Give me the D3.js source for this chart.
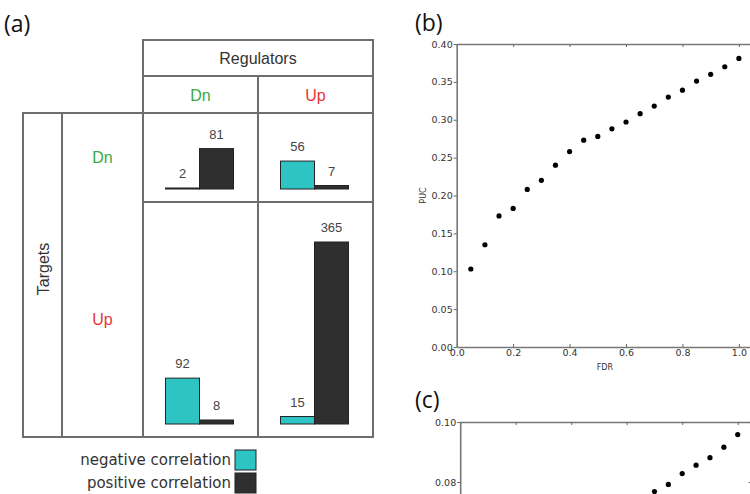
<!DOCTYPE html>
<html>
<head>
<meta charset="utf-8">
<script src="https://cdn.jsdelivr.net/npm/d3@7"></script>
<style>
  body { margin: 0; background: #fff; }
  svg { display: block; }
</style>
</head>
<body>
<svg id="svg" width="750" height="494"></svg>
<script>
// (a) counts, [target][regulator]
var regulators = ['Dn', 'Up'];
var targets = ['Dn', 'Up'];
var negCounts = [[2, 56], [92, 15]];
var posCounts = [[81, 7], [8, 365]];
var seriesNames = ['negative correlation', 'positive correlation'];
var seriesColors = ['#2ec4c4', '#2f2f2f'];
var labelColors = {'Dn': '#3aa845', 'Up': '#e8353b'};

// (b) PUC vs FDR
var fdrB = [0.05, 0.10, 0.15, 0.20, 0.25, 0.30, 0.35, 0.40, 0.45, 0.50,
            0.55, 0.60, 0.65, 0.70, 0.75, 0.80, 0.85, 0.90, 0.95, 1.00];
var pucB = [0.103, 0.135, 0.173, 0.183, 0.208, 0.220, 0.240, 0.258, 0.273, 0.278,
            0.288, 0.297, 0.308, 0.318, 0.330, 0.339, 0.351, 0.360, 0.370, 0.381];
var yTicksB = [0, 0.05, 0.10, 0.15, 0.20, 0.25, 0.30, 0.35, 0.40];
var xTicks = [0, 0.2, 0.4, 0.6, 0.8, 1.0];

// (c) visible part
var fdrC = [0.70, 0.75, 0.80, 0.85, 0.90, 0.95, 1.00];
var valC = [0.0768, 0.0792, 0.0828, 0.0856, 0.0881, 0.0916, 0.0958];
var yTicksC = [0, 0.02, 0.04, 0.06, 0.08, 0.10];

var W = 750, H = 494;
var s = d3.select('#svg');

function panelLabel(x, y, t){
    s.append('text')
        .attr('x', x).attr('y', y)
        .attr('font-family', 'Open Sans, sans-serif')
        .attr('font-size', 23)
        .attr('fill', '#111')
        .text(t);
}

// ---------- panel (a) ----------
function genTable(){
    panelLabel(4, 32, '(a)');
    var L = 23, C1 = 62, C2 = 143, R = 373;
    var T = 40, H2 = 76, R1 = 113, RM = 202, B = 437;
    var g = s.append('g').attr('stroke', '#6e6e6e').attr('stroke-width', 2).attr('fill', 'none');
    g.append('rect').attr('x', C2).attr('y', T).attr('width', R - C2).attr('height', B - T);
    g.append('rect').attr('x', L).attr('y', R1).attr('width', R - L).attr('height', B - R1);
    [[C2, H2, R, H2], [C2, RM, R, RM], [C1, R1, C1, B]].forEach(function(l){
        g.append('line').attr('x1', l[0]).attr('y1', l[1]).attr('x2', l[2]).attr('y2', l[3]);
    });

    var col = d3.scaleBand().domain(regulators).range([C2, R]);
    var rowTop = {'Dn': R1, 'Up': RM}, rowBot = {'Dn': RM, 'Up': B};
    g.append('line').attr('x1', col('Up')).attr('y1', H2).attr('x2', col('Up')).attr('y2', B);

    s.append('text').attr('x', (C2 + R) / 2).attr('y', 64)
        .attr('text-anchor', 'middle').attr('font-family', 'Liberation Sans, Arial')
        .attr('font-size', 16).attr('fill', '#333').text('Regulators');
    regulators.forEach(function(r){
        s.append('text').attr('x', col(r) + col.bandwidth() / 2).attr('y', 101)
            .attr('text-anchor', 'middle').attr('font-family', 'Liberation Sans, Arial')
            .attr('font-size', 16).attr('fill', labelColors[r]).text(r);
    });
    targets.forEach(function(t){
        s.append('text').attr('x', (C1 + C2) / 2).attr('y', (rowTop[t] + rowBot[t]) / 2 + 5)
            .attr('text-anchor', 'middle').attr('font-family', 'Liberation Sans, Arial')
            .attr('font-size', 16).attr('fill', labelColors[t]).text(t);
    });
    s.append('text')
        .attr('transform', 'translate(' + ((L + C1) / 2 + 6) + ',' + ((R1 + B) / 2 - 6) + ') rotate(-90)')
        .attr('text-anchor', 'middle').attr('font-family', 'Liberation Sans, Arial')
        .attr('font-size', 16).attr('fill', '#333').text('Targets');

    var h = d3.scaleLinear().domain([0, 365]).range([0, 182]);
    var inner = d3.scaleBand().domain([0, 1]).range([-35, 33]);
    targets.forEach(function(t, ti){
        regulators.forEach(function(r, ri){
            var cx = col(r) + col.bandwidth() / 2;
            var base = rowBot[t] - 13;
            [negCounts[ti][ri], posCounts[ti][ri]].forEach(function(v, k){
                var x = cx + inner(k);
                s.append('rect')
                    .attr('x', x).attr('y', base - Math.max(h(v), 1))
                    .attr('width', inner.bandwidth()).attr('height', Math.max(h(v), 1))
                    .attr('fill', seriesColors[k])
                    .attr('stroke', '#222').attr('stroke-width', 1);
                s.append('text')
                    .attr('x', x + inner.bandwidth() / 2).attr('y', base - h(v) - 10)
                    .attr('text-anchor', 'middle').attr('font-family', 'Liberation Sans, Arial')
                    .attr('font-size', 13).attr('fill', '#444').text(v);
            });
        });
    });

    seriesNames.forEach(function(n, k){
        var y = 460 + k * 23;
        s.append('text').attr('x', 231).attr('y', y + 5)
            .attr('text-anchor', 'end').attr('font-family', 'DejaVu Sans, sans-serif')
            .attr('font-size', 15).attr('fill', '#333').text(n);
        s.append('rect').attr('x', 235).attr('y', y - 10).attr('width', 21).attr('height', 20)
            .attr('fill', seriesColors[k]).attr('stroke', '#222').attr('stroke-width', 1);
    });
}

// ---------- panels (b), (c) ----------
function genScatter(xs, ys, xDom, xRange, yDom, yRange, yTicks, withXLabels, yLabel, xLabel){
    var x = d3.scaleLinear().domain(xDom).range(xRange);
    var y = d3.scaleLinear().domain(yDom).range(yRange);
    var yShown = yTicks.filter(function(t){ return y(t) < H; });
    var g = s.append('g');
    var styleAxis = function(a){
        a.select('.domain').attr('stroke', '#777').attr('stroke-width', 1.6);
        a.selectAll('.tick line').attr('stroke', '#666');
        a.selectAll('text').attr('font-family', 'DejaVu Sans').attr('font-size', 9.5).attr('fill', '#333');
    };
    if(withXLabels){
        g.append('g').attr('transform', 'translate(0,' + y.range()[0] + ')')
            .call(d3.axisBottom(x).tickValues(xTicks).tickSizeInner(-3).tickSizeOuter(0).tickPadding(2)
                .tickFormat(d3.format('.1f')))
            .call(styleAxis);
    }
    g.append('g').attr('transform', 'translate(0,' + y.range()[1] + ')')
        .call(d3.axisTop(x).tickValues(xTicks).tickSizeInner(-3).tickSizeOuter(0).tickFormat(''))
        .call(styleAxis);
    g.append('g').attr('transform', 'translate(' + x.range()[0] + ',0)')
        .call(d3.axisLeft(y).tickValues(yShown).tickSizeInner(3).tickSizeOuter(0).tickPadding(1)
            .tickFormat(d3.format('.2f')))
        .call(styleAxis);
    g.append('g').attr('transform', 'translate(' + x.range()[1] + ',0)')
        .call(d3.axisRight(y).tickValues(yShown).tickSizeInner(-3).tickSizeOuter(0).tickFormat(''))
        .call(styleAxis);
    g.selectAll('circle.pt').data(xs).enter().append('circle')
        .attr('class', 'pt')
        .attr('cx', function(d){ return x(d); })
        .attr('cy', function(d, i){ return y(ys[i]); })
        .attr('r', 2.6).attr('fill', '#000');
    if(yLabel){
        g.append('text')
            .attr('transform', 'translate(' + (x.range()[0] - 31) + ',' + ((y.range()[0] + y.range()[1]) / 2) + ') rotate(-90)')
            .attr('text-anchor', 'middle').attr('font-family', 'DejaVu Sans')
            .attr('font-size', 8).attr('fill', '#333').text(yLabel);
    }
    if(xLabel){
        g.append('text').attr('x', (x.range()[0] + x.range()[1]) / 2).attr('y', y.range()[0] + 23)
            .attr('text-anchor', 'middle').attr('font-family', 'DejaVu Sans')
            .attr('font-size', 8).attr('fill', '#333').text(xLabel);
    }
}

genTable();
panelLabel(415, 31, '(b)');
genScatter(fdrB, pucB, [0, 1.05], [456.7, 753], [0, 0.4], [347, 44], yTicksB, true, 'PUC', 'FDR');
panelLabel(415, 408, '(c)');
genScatter(fdrC, valC, [0, 1.05], [460.2, 751.6], [0, 0.1], [722, 422], yTicksC, false, null, null);
</script>
</body>
</html>
